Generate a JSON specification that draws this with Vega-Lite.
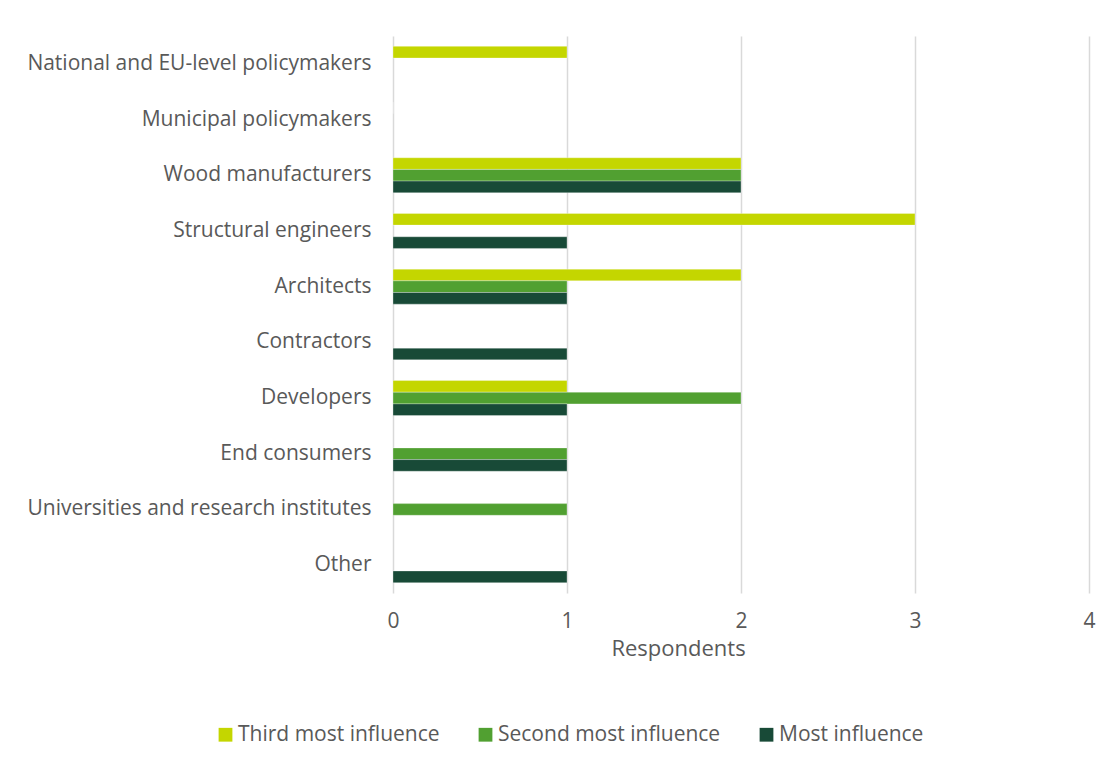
{
  "$schema": "https://vega.github.io/schema/vega-lite/v6.json",
  "width": 696,
  "height": 557,
  "autosize": {"type": "none"},
  "padding": {"left": 393, "top": 36, "right": 28, "bottom": 174},
  "background": "white",
  "config": {
    "view": {"stroke": null},
    "font": "Open Sans",
    "axis": {"labelColor": "#595959", "titleColor": "#595959", "labelFont": "Open Sans", "titleFont": "Open Sans"},
    "legend": {"labelColor": "#595959", "labelFont": "Open Sans"}
  },
  "data": {
    "values": [
      {"group": "National and EU-level policymakers", "rank": "Third most influence", "count": 1},
      {"group": "Municipal policymakers", "rank": "Third most influence", "count": 0},
      {"group": "Wood manufacturers", "rank": "Third most influence", "count": 2},
      {"group": "Wood manufacturers", "rank": "Second most influence", "count": 2},
      {"group": "Wood manufacturers", "rank": "Most influence", "count": 2},
      {"group": "Structural engineers", "rank": "Third most influence", "count": 3},
      {"group": "Structural engineers", "rank": "Most influence", "count": 1},
      {"group": "Architects", "rank": "Third most influence", "count": 2},
      {"group": "Architects", "rank": "Second most influence", "count": 1},
      {"group": "Architects", "rank": "Most influence", "count": 1},
      {"group": "Contractors", "rank": "Most influence", "count": 1},
      {"group": "Developers", "rank": "Third most influence", "count": 1},
      {"group": "Developers", "rank": "Second most influence", "count": 2},
      {"group": "Developers", "rank": "Most influence", "count": 1},
      {"group": "End consumers", "rank": "Second most influence", "count": 1},
      {"group": "End consumers", "rank": "Most influence", "count": 1},
      {"group": "Universities and research institutes", "rank": "Second most influence", "count": 1},
      {"group": "Other", "rank": "Most influence", "count": 1}
    ]
  },
  "mark": {"type": "bar", "stroke": "white", "strokeWidth": 0.6, "strokeOpacity": 0.5},
  "encoding": {
    "y": {
      "field": "group",
      "type": "nominal",
      "sort": [
        "National and EU-level policymakers",
        "Municipal policymakers",
        "Wood manufacturers",
        "Structural engineers",
        "Architects",
        "Contractors",
        "Developers",
        "End consumers",
        "Universities and research institutes",
        "Other"
      ],
      "scale": {"paddingInner": 0.372, "paddingOuter": 0.186},
      "axis": {
        "title": null,
        "domain": false,
        "ticks": false,
        "labelFontSize": 21,
        "labelPadding": 22,
        "labelLimit": 400
      }
    },
    "yOffset": {
      "field": "rank",
      "type": "nominal",
      "sort": ["Third most influence", "Second most influence", "Most influence"],
      "scale": {"paddingInner": 0, "paddingOuter": 0}
    },
    "x": {
      "field": "count",
      "type": "quantitative",
      "scale": {"domain": [0, 4], "nice": false},
      "axis": {
        "title": "Respondents",
        "titleFontSize": 22,
        "titleFontWeight": "normal",
        "titleX": 285,
        "titleY": 62,
        "titleAnchor": "middle",
        "titleBaseline": "alphabetic",
        "values": [0, 1, 2, 3, 4],
        "format": "d",
        "domain": false,
        "ticks": false,
        "labelFontSize": 21,
        "labelPadding": 17,
        "labelFlush": false,
        "gridColor": "#D9D9D9",
        "gridWidth": 1.5
      }
    },
    "color": {
      "field": "rank",
      "type": "nominal",
      "sort": ["Third most influence", "Second most influence", "Most influence"],
      "scale": {
        "domain": ["Third most influence", "Second most influence", "Most influence"],
        "range": ["#C4D600", "#51A031", "#184A37"]
      },
      "legend": {
        "title": null,
        "orient": "none",
        "direction": "horizontal",
        "legendX": -178,
        "legendY": 688,
        "symbolType": "square",
        "symbolSize": 190,
        "symbolStrokeWidth": 0,
        "labelFontSize": 21,
        "labelOffset": 2,
        "columnPadding": 35,
        "labelLimit": 400
      }
    }
  }
}
